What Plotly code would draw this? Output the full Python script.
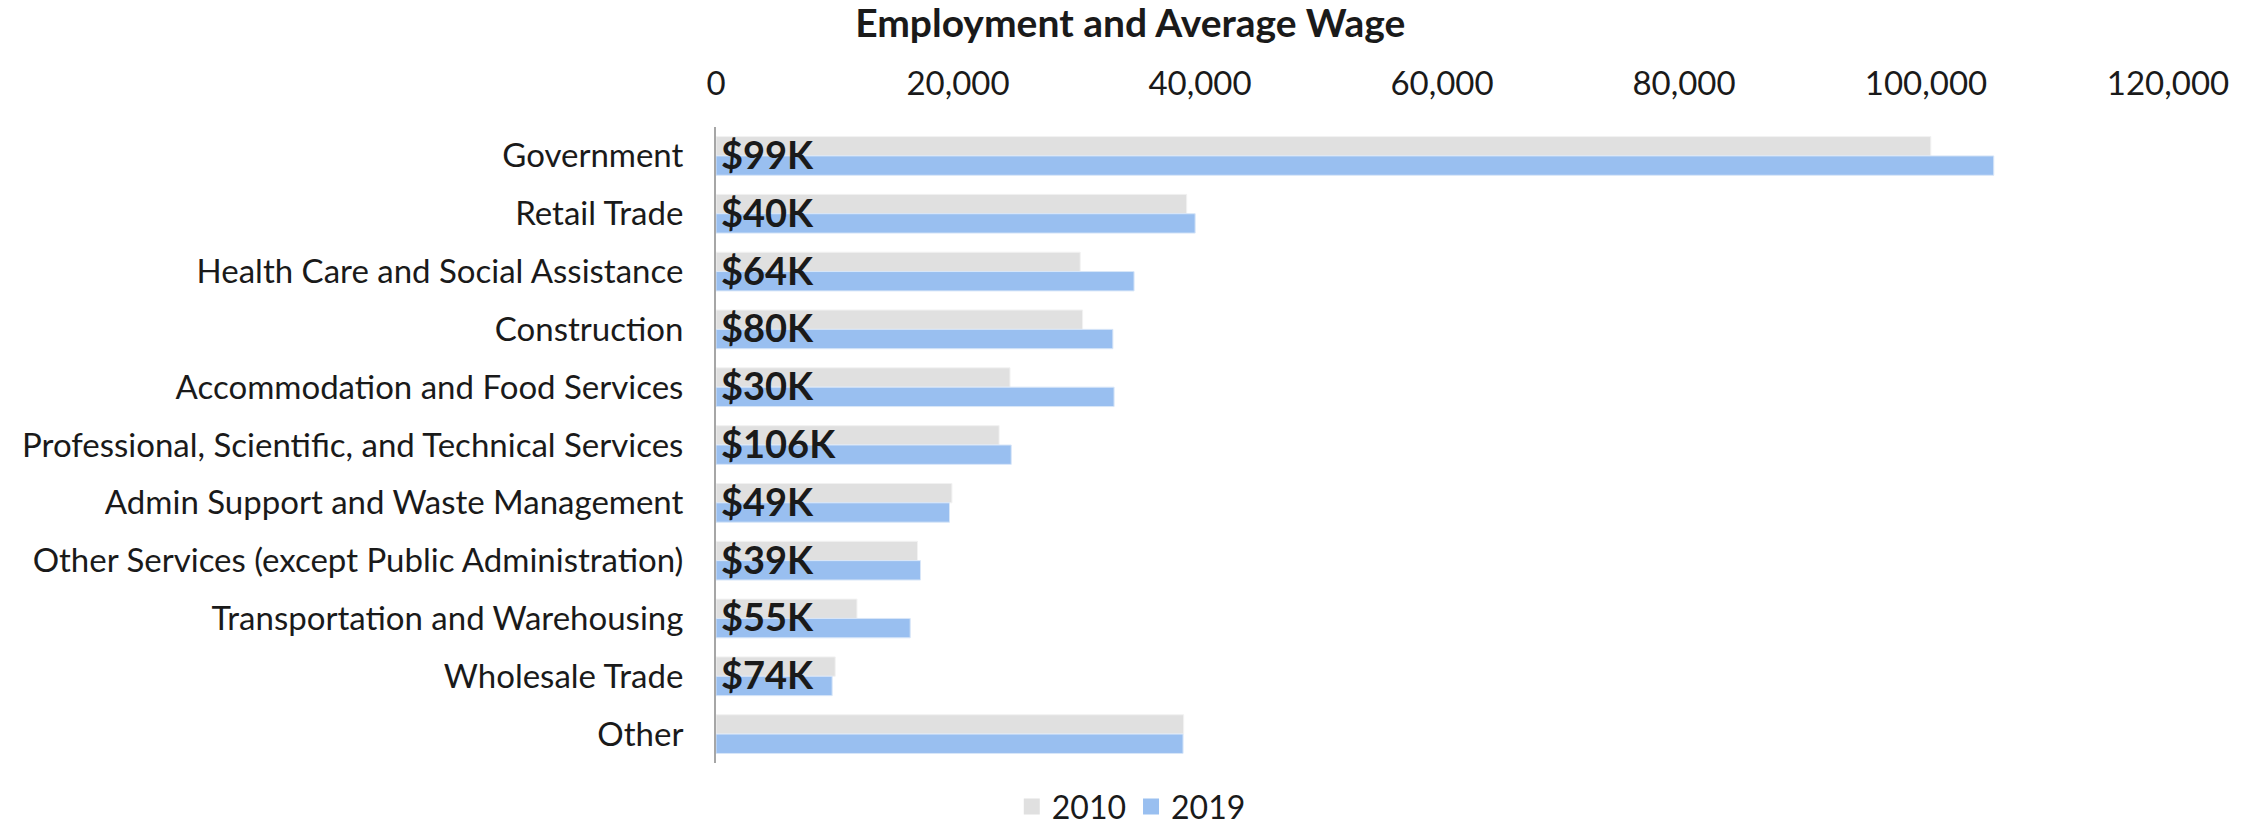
import plotly.graph_objects as go

categories = [
    "Government",
    "Retail Trade",
    "Health Care and Social Assistance",
    "Construction",
    "Accommodation and Food Services",
    "Professional, Scientific, and Technical Services",
    "Admin Support and Waste Management",
    "Other Services (except Public Administration)",
    "Transportation and Warehousing",
    "Wholesale Trade",
    "Other",
]
emp_2010 = [100400, 38900, 30100, 30300, 24300, 23400, 19500, 16650, 11650, 9850, 38650]
emp_2019 = [105600, 39600, 34550, 32800, 32900, 24400, 19300, 16900, 16050, 9600, 38600]
wages = ["$99K", "$40K", "$64K", "$80K", "$30K", "$106K", "$49K", "$39K", "$55K", "$74K", ""]
x_ticks = [0, 20000, 40000, 60000, 80000, 100000, 120000]
series_names = ["2010", "2019"]
series_colors = ["#e0e0e0", "#99bff0"]

FONT = "Lato"
TXT = "#1a1a1a"

fig = go.Figure()
for name, vals, col, lc in zip(series_names, [emp_2010, emp_2019], series_colors,
                               ["#f2f2f2", "#d8e6f8"]):
    fig.add_trace(go.Bar(name=name, y=categories, x=vals, orientation="h",
                         showlegend=False,
                         marker=dict(color=col, line=dict(color=lc, width=1))))
# legend entries with larger square swatches
for name, col in zip(series_names, series_colors):
    fig.add_trace(go.Scatter(name=name, x=[None], y=[None], mode="markers",
                             marker=dict(symbol="square", size=19, color=col),
                             showlegend=True))

for c, w in zip(categories, wages):
    if w:
        fig.add_annotation(x=0, y=c, xref="x", yref="y", text="<b>" + w + "</b>",
                           showarrow=False, xanchor="left", yanchor="middle",
                           xshift=3, yshift=2,
                           font=dict(family=FONT, size=38, color=TXT))

fig.update_layout(
    width=2247, height=835,
    margin=dict(l=716, r=79, t=127, b=72, autoexpand=False),
    paper_bgcolor="white", plot_bgcolor="white",
    barmode="group", bargap=0.33, bargroupgap=0,
    font=dict(family=FONT, size=32, color=TXT),
    title=dict(text="<b>Employment and Average Wage</b>", x=0.503, xref="container",
               y=0.972, yref="container", xanchor="center", yanchor="middle",
               font=dict(family=FONT, size=39, color=TXT)),
    legend=dict(orientation="h", x=0.286, xanchor="center", y=-0.112, yanchor="bottom",
                font=dict(family=FONT, size=32, color=TXT), traceorder="normal",
                itemwidth=30, itemsizing="trace", tracegroupgap=0),
    xaxis=dict(side="top", range=[0, 120000], tickvals=x_ticks, tickformat=",",
               showgrid=False, zeroline=False, showline=False, ticks="",
               ticklabelstandoff=24, tickfont=dict(family=FONT, size=33, color=TXT)),
    yaxis=dict(categoryorder="array", categoryarray=categories, autorange="reversed",
               showgrid=False, zeroline=False, showline=True, linecolor="#a6a6a6",
               linewidth=2, ticks="", ticklabelstandoff=24,
               tickfont=dict(family=FONT, size=33, color=TXT)),
)

fig.write_html("out.html")
